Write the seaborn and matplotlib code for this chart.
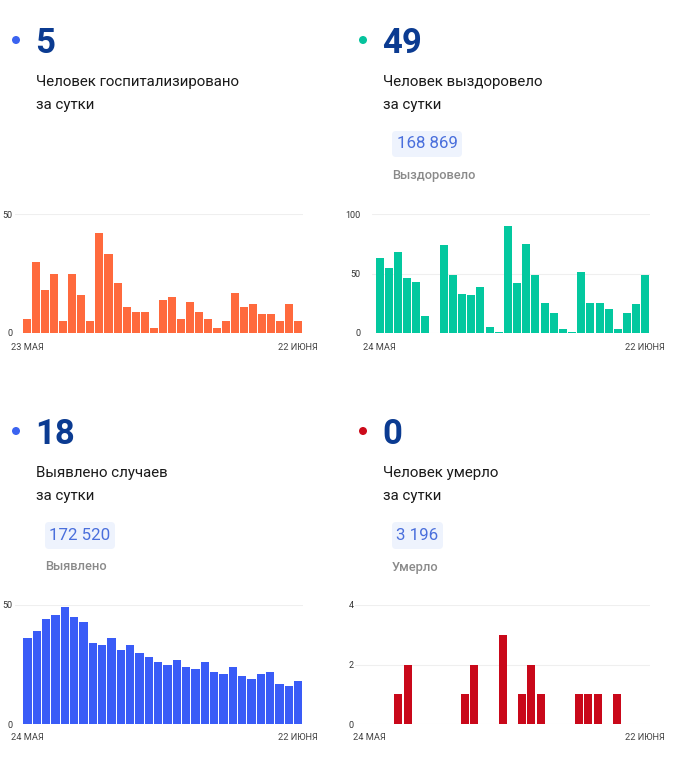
import matplotlib
matplotlib.use("Agg")
import matplotlib.pyplot as plt
from matplotlib.patches import FancyBboxPatch, Circle
import seaborn as sns
import pandas as pd

# ---------------- data ----------------
hosp_values = [6, 30, 18, 25, 5, 25, 16, 5, 42, 33, 21, 11, 9, 9, 2, 14, 15, 6, 13, 9,
               6, 2, 5, 17, 11, 12, 8, 8, 5, 12, 5]
recov_values = [63, 55, 68, 46, 43, 14, 0, 74, 49, 33, 32, 39, 5, 1, 90, 42, 75, 49, 25, 17,
                3, 1, 51, 25, 25, 20, 3, 17, 24, 49]
cases_values = [36, 39, 44, 46, 49, 45, 43, 34, 33, 36, 31, 33, 30, 28, 26, 25, 27, 24, 23, 26,
                22, 21, 24, 20, 19, 21, 22, 17, 16, 18]
death_values = [0, 0, 0, 1, 2, 0, 0, 0, 0, 0, 1, 2, 0, 0, 3, 0, 1, 2, 1, 0,
                0, 0, 1, 1, 1, 0, 1, 0, 0, 0]

headline_numbers = ["5", "49", "18", "0"]
headline_texts = [["Человек госпитализировано", "за сутки"],
                  ["Человек выздоровело", "за сутки"],
                  ["Выявлено случаев", "за сутки"],
                  ["Человек умерло", "за сутки"]]
badge_totals = [None, "168 869", "172 520", "3 196"]
badge_labels = [None, "Выздоровело", "Выявлено", "Умерло"]
start_labels = ["23 МАЯ", "24 МАЯ", "24 МАЯ", "24 МАЯ"]
end_label = "22 ИЮНЯ"
yticks_list = [[0, 50], [0, 50, 100], [0, 50], [0, 2, 4]]

# ---------------- style ----------------
sns.set_theme(style="white")
plt.rcParams['font.family'] = ['Roboto', 'DejaVu Sans']

W, H = 684, 771
fig = plt.figure(figsize=(W / 100, H / 100), dpi=100)
fig.patch.set_facecolor("white")

# overlay axes in pixel coordinates for texts / decorations
ov = fig.add_axes([0, 0, 1, 1])
ov.set_xlim(0, W)
ov.set_ylim(H, 0)
ov.axis("off")

NAVY = "#0b3b91"
BAR_COLORS = ["#ff6a3d", "#03c89f", "#3a5cf7", "#c9081a"]
DOT_COLORS = ["#3b63f0", "#05c39d", "#3b63f0", "#cc0a1a"]

# panel layout (pixels)
panels = [
    dict(x0=36, y0=0, dotx=16, ax=(15, 214, 303, 333), bar0=22.7, bar1=302.7,
         ypad=1.5, sx=10.7, ex=318, badge=None),
    dict(x0=383, y0=0, dotx=363, ax=(372, 214, 650, 333), bar0=375, bar1=650,
         ypad=8.5, sx=362.7, ex=665, badge=(392, 131, 462, 157)),
    dict(x0=36, y0=391, dotx=16, ax=(15, 605, 303, 724), bar0=22.7, bar1=302.7,
         ypad=1.5, sx=11, ex=318, badge=(45, 522, 115, 549)),
    dict(x0=383, y0=391, dotx=363, ax=(355, 605, 650, 724), bar0=365, bar1=650,
         ypad=1.0, sx=352.7, ex=665, badge=(392, 522, 443, 549)),
]
series = [hosp_values, recov_values, cases_values, death_values]

for i, p in enumerate(panels):
    y0 = p["y0"]
    # dot and headline
    ov.add_patch(Circle((p["dotx"], y0 + 40), 4, color=DOT_COLORS[i], lw=0))
    ov.text(p["x0"] - 1, y0 + 40, headline_numbers[i], fontsize=25, fontweight="bold",
            color=NAVY, va="center_baseline", ha="left")
    ov.text(p["x0"], y0 + 82, headline_texts[i][0], fontsize=10.8, color="#1a1a1a",
            va="center", ha="left")
    ov.text(p["x0"], y0 + 105, headline_texts[i][1], fontsize=10.8, color="#1a1a1a",
            va="center", ha="left")
    if p["badge"] is not None:
        l, t, r, b = p["badge"]
        ov.add_patch(FancyBboxPatch((l + 3, t + 3), r - l - 6, b - t - 6,
                                    boxstyle="round,pad=3,rounding_size=4",
                                    fc="#eef3fd", ec="none"))
        ov.text((l + r) / 2, (t + b) / 2, badge_totals[i], fontsize=12.2, color="#4a6fdc",
                va="center", ha="center")
        ov.text(l, b + 18, badge_labels[i], fontsize=9.3, fontweight="medium",
                color="#8a8a8a", va="center", ha="left")

    # bar chart
    l, t, r, b = p["ax"]
    ax = fig.add_axes([l / W, 1 - b / H, (r - l) / W, (b - t) / H])
    vals = series[i]
    n = len(vals)
    df = pd.DataFrame({"day": list(range(n)), "value": vals})
    sns.barplot(data=df, x="day", y="value", ax=ax, color=BAR_COLORS[i], saturation=1,
                width=0.89, linewidth=0)
    step = (p["bar1"] - p["bar0"]) / n
    ax.set_xlim(-0.5 - (p["bar0"] - l) / step, n - 0.5 + (r - p["bar1"]) / step)
    yt = yticks_list[i]
    ax.set_ylim(0, yt[-1])
    ax.set_yticks(yt)
    ax.set_yticklabels([str(v) for v in yt], fontsize=6.5, color="#333333")
    ax.tick_params(axis="y", length=0, pad=p["ypad"])
    ax.set_xticks([])
    ax.set_xlabel("")
    ax.set_ylabel("")
    for s in ax.spines.values():
        s.set_visible(False)
    ax.set_axisbelow(True)
    ax.yaxis.grid(True, color="#efefef", linewidth=0.8)
    ax.set_facecolor("none")
    # date labels
    yd = b + 14
    ov.text(p["sx"], yd, start_labels[i], fontsize=6.7, color="#444444", va="center", ha="left")
    ov.text(p["ex"], yd, end_label, fontsize=6.7, color="#444444", va="center", ha="right")

ov.set_zorder(5)
fig.savefig("out.png", dpi=100, facecolor="white")
